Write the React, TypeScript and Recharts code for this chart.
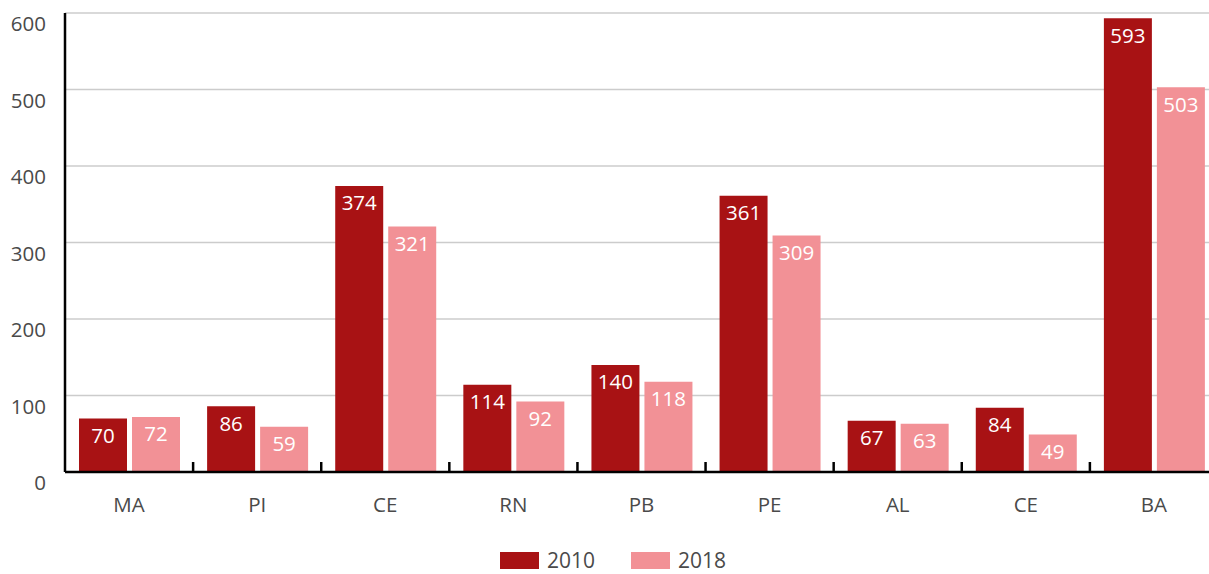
import React from "react";
import {
  BarChart,
  Bar,
  XAxis,
  YAxis,
  CartesianGrid,
  LabelList,
} from "recharts";

const STATES = ["MA", "PI", "CE", "RN", "PB", "PE", "AL", "CE", "BA"];
const Y2010 = [70, 86, 374, 114, 140, 361, 67, 84, 593];
const Y2018 = [72, 59, 321, 92, 118, 309, 63, 49, 503];
const Y_TICKS = [0, 100, 200, 300, 400, 500, 600];

const SERIES = [
  { key: "y2010", name: "2010", color: "#a81214" },
  { key: "y2018", name: "2018", color: "#f29196" },
];

const data = STATES.map((s, i) => ({
  id: i,
  state: s,
  y2010: Y2010[i],
  y2018: Y2018[i],
}));

const FONT = "'Open Sans', 'Noto Sans', sans-serif";
const TEXT = "#4a4a4a";

function YTick(props: any) {
  const { x, y, payload } = props;
  return (
    <text
      x={x}
      y={y + 10}
      textAnchor="end"
      dominantBaseline="central"
      fill={TEXT}
      fontSize={20.5}
      fontFamily={FONT}
    >
      {payload.value}
    </text>
  );
}

// label under each band, plus the small upward tick on the band's right edge
function XTick(props: any) {
  const { x, y, payload, index } = props;
  const half = payload.offset || 0;
  return (
    <g>
      {index < STATES.length - 1 && (
        <line
          x1={x + half}
          x2={x + half}
          y1={y}
          y2={y - 10}
          stroke="#000"
          strokeWidth={2.5}
        />
      )}
      <text
        x={x}
        y={y + 32}
        textAnchor="middle"
        dominantBaseline="central"
        fill={TEXT}
        fontSize={20.5}
        fontFamily={FONT}
      >
        {STATES[payload.value]}
      </text>
    </g>
  );
}

export default function App() {
  return (
    <div
      style={{
        position: "absolute",
        left: 0,
        top: 0,
        width: 1209,
        height: 574,
        overflow: "hidden",
        background: "#fff",
        fontFamily: FONT,
      }}
    >
      <BarChart
        width={1230}
        height={574}
        data={data}
        margin={{ top: 13, right: 12, left: 0, bottom: 0 }}
        barCategoryGap={14}
        barGap={5}
      >
        <CartesianGrid
          vertical={false}
          stroke="#cccccc"
          strokeWidth={1.5}
        />
        <XAxis
          dataKey="id"
          height={102}
          axisLine={{ stroke: "#000", strokeWidth: 2.5 }}
          tickLine={false}
          tickSize={0}
          tickMargin={0}
          tick={<XTick />}
          interval={0}
        />
        <YAxis
          width={65}
          domain={[0, 600]}
          ticks={Y_TICKS}
          axisLine={{ stroke: "#000", strokeWidth: 2.5 }}
          tickLine={false}
          tickSize={0}
          tickMargin={19}
          tick={<YTick />}
        />
        {SERIES.map((s) => (
          <Bar
            key={s.key}
            dataKey={s.key}
            name={s.name}
            fill={s.color}
            isAnimationActive={false}
          >
            <LabelList
              dataKey={s.key}
              position="insideTop"
              offset={10}
              fill="#ffffff"
              fontSize={20.5}
              fontFamily={FONT}
            />
          </Bar>
        ))}
      </BarChart>
      <div
        style={{
          position: "absolute",
          top: 550,
          left: 500,
          display: "flex",
          alignItems: "center",
        }}
      >
        {SERIES.map((s, i) => (
          <div
            key={s.key}
            style={{
              display: "flex",
              alignItems: "center",
              marginLeft: i === 0 ? 0 : 36,
            }}
          >
            <span
              style={{
                width: 39,
                height: 17,
                background: s.color,
                display: "inline-block",
              }}
            />
            <span
              style={{
                marginLeft: 8,
                fontSize: 21,
                color: TEXT,
                lineHeight: "20px",
              }}
            >
              {s.name}
            </span>
          </div>
        ))}
      </div>
    </div>
  );
}
